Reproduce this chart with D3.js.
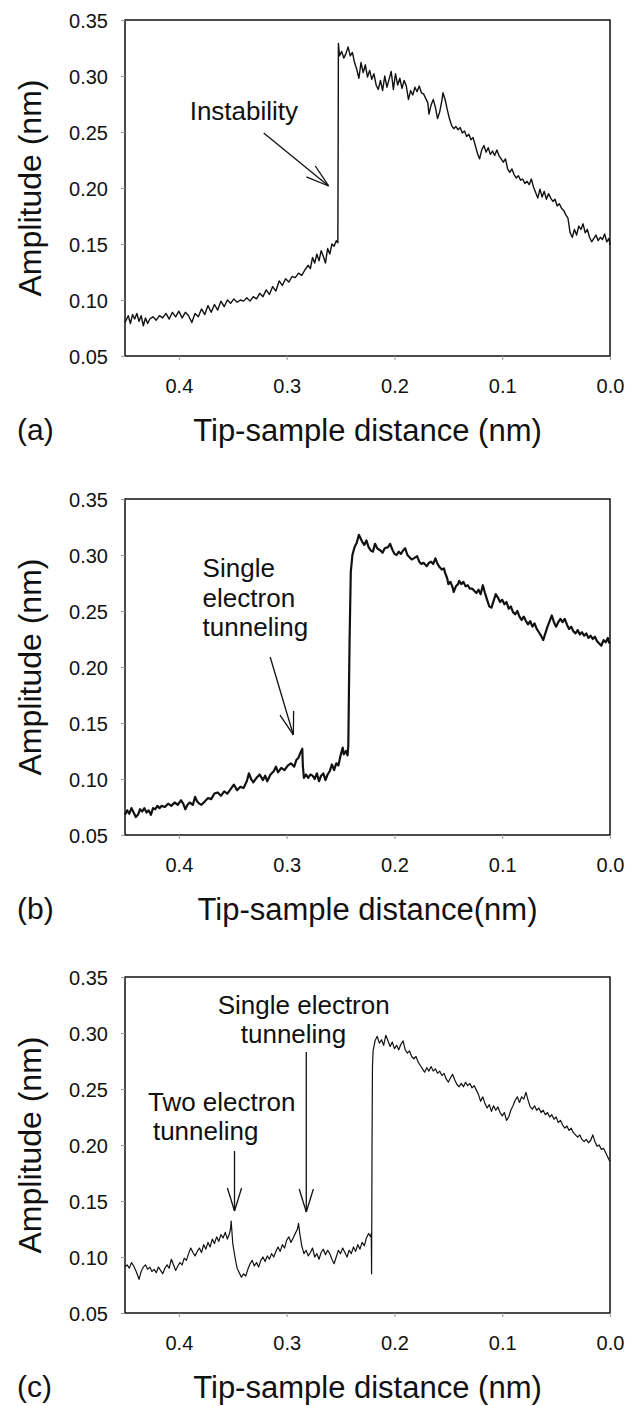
<!DOCTYPE html>
<html>
<head>
<meta charset="utf-8">
<script src="https://cdn.jsdelivr.net/npm/d3@7"></script>
<style>
  body { margin: 0; background: #fff; }
  text { font-family: "Liberation Sans", Arial, sans-serif; fill: #111; }
</style>
</head>
<body>
<script>
// ---- data: [tip-sample distance (nm), amplitude (nm)] ----
let curveA = [[0.450,0.080],[0.447,0.086],[0.445,0.079],[0.443,0.087],[0.441,0.083],[0.439,0.088],[0.437,0.081],[0.435,0.086],[0.433,0.077],[0.431,0.084],[0.429,0.079],[0.427,0.083],[0.424,0.085],[0.421,0.082],[0.418,0.086],[0.415,0.084],[0.412,0.088],[0.409,0.083],[0.406,0.089],[0.403,0.085],[0.400,0.090],[0.397,0.084],[0.394,0.089],[0.391,0.086],[0.388,0.080],[0.385,0.088],[0.382,0.085],[0.379,0.092],[0.376,0.087],[0.373,0.095],[0.370,0.089],[0.367,0.096],[0.364,0.091],[0.361,0.099],[0.358,0.094],[0.355,0.100],[0.352,0.097],[0.349,0.101],[0.346,0.098],[0.343,0.100],[0.340,0.099],[0.337,0.102],[0.334,0.099],[0.331,0.103],[0.328,0.101],[0.325,0.106],[0.322,0.103],[0.319,0.109],[0.316,0.105],[0.313,0.112],[0.310,0.108],[0.307,0.117],[0.304,0.113],[0.301,0.119],[0.298,0.116],[0.295,0.121],[0.292,0.120],[0.289,0.124],[0.286,0.122],[0.283,0.127],[0.280,0.131],[0.278,0.128],[0.276,0.138],[0.274,0.133],[0.272,0.141],[0.270,0.135],[0.268,0.144],[0.266,0.139],[0.264,0.133],[0.262,0.146],[0.260,0.141],[0.258,0.150],[0.256,0.148],[0.254,0.153],[0.2525,0.151],[0.2522,0.250],[0.2520,0.329],[0.251,0.318],[0.249,0.322],[0.247,0.316],[0.245,0.320],[0.243,0.326],[0.241,0.318],[0.239,0.321],[0.237,0.312],[0.235,0.306],[0.233,0.298],[0.231,0.312],[0.229,0.303],[0.227,0.310],[0.225,0.299],[0.223,0.305],[0.221,0.297],[0.219,0.302],[0.217,0.292],[0.215,0.288],[0.213,0.296],[0.211,0.287],[0.209,0.300],[0.207,0.290],[0.205,0.297],[0.203,0.304],[0.201,0.288],[0.199,0.302],[0.197,0.292],[0.195,0.298],[0.193,0.289],[0.191,0.296],[0.189,0.291],[0.187,0.279],[0.185,0.287],[0.183,0.283],[0.181,0.290],[0.179,0.286],[0.177,0.291],[0.175,0.285],[0.173,0.284],[0.171,0.280],[0.169,0.276],[0.168,0.266],[0.166,0.274],[0.164,0.279],[0.162,0.272],[0.160,0.262],[0.158,0.268],[0.156,0.278],[0.155,0.285],[0.153,0.279],[0.151,0.270],[0.149,0.262],[0.147,0.256],[0.145,0.253],[0.143,0.255],[0.141,0.252],[0.139,0.254],[0.137,0.249],[0.135,0.251],[0.133,0.246],[0.131,0.248],[0.129,0.243],[0.127,0.245],[0.125,0.238],[0.123,0.231],[0.121,0.226],[0.119,0.234],[0.117,0.238],[0.115,0.232],[0.113,0.236],[0.111,0.230],[0.109,0.233],[0.107,0.229],[0.105,0.234],[0.103,0.229],[0.101,0.226],[0.099,0.223],[0.097,0.226],[0.095,0.217],[0.093,0.214],[0.091,0.217],[0.089,0.212],[0.087,0.209],[0.085,0.211],[0.083,0.207],[0.081,0.208],[0.079,0.204],[0.077,0.206],[0.075,0.203],[0.073,0.208],[0.071,0.201],[0.069,0.196],[0.067,0.191],[0.065,0.199],[0.063,0.192],[0.061,0.197],[0.059,0.190],[0.057,0.195],[0.055,0.191],[0.053,0.188],[0.051,0.190],[0.049,0.184],[0.047,0.186],[0.045,0.182],[0.043,0.180],[0.041,0.176],[0.039,0.173],[0.037,0.160],[0.035,0.156],[0.033,0.163],[0.031,0.158],[0.029,0.166],[0.027,0.163],[0.025,0.168],[0.023,0.160],[0.021,0.163],[0.019,0.156],[0.017,0.152],[0.015,0.155],[0.013,0.158],[0.011,0.153],[0.009,0.156],[0.007,0.154],[0.005,0.159],[0.003,0.152],[0.001,0.155],[0.000,0.149]];

let curveB = [[0.450,0.068],[0.448,0.072],[0.446,0.069],[0.444,0.074],[0.442,0.070],[0.440,0.066],[0.438,0.068],[0.436,0.073],[0.434,0.071],[0.432,0.074],[0.430,0.070],[0.428,0.072],[0.426,0.068],[0.424,0.074],[0.422,0.073],[0.420,0.076],[0.418,0.074],[0.416,0.076],[0.413,0.075],[0.410,0.078],[0.407,0.076],[0.404,0.079],[0.401,0.077],[0.398,0.081],[0.396,0.078],[0.394,0.073],[0.392,0.077],[0.390,0.079],[0.387,0.077],[0.385,0.084],[0.383,0.080],[0.381,0.078],[0.379,0.077],[0.376,0.080],[0.373,0.083],[0.370,0.082],[0.367,0.087],[0.364,0.088],[0.361,0.085],[0.358,0.089],[0.355,0.087],[0.352,0.091],[0.349,0.095],[0.346,0.090],[0.343,0.093],[0.340,0.092],[0.337,0.098],[0.335,0.105],[0.333,0.100],[0.331,0.097],[0.328,0.101],[0.325,0.104],[0.322,0.099],[0.320,0.103],[0.318,0.098],[0.315,0.104],[0.312,0.107],[0.310,0.111],[0.308,0.106],[0.305,0.110],[0.302,0.108],[0.299,0.112],[0.296,0.114],[0.293,0.111],[0.291,0.117],[0.289,0.119],[0.287,0.124],[0.2855,0.127],[0.285,0.112],[0.284,0.101],[0.282,0.104],[0.280,0.101],[0.278,0.104],[0.276,0.103],[0.274,0.100],[0.272,0.105],[0.270,0.098],[0.268,0.103],[0.266,0.105],[0.264,0.099],[0.262,0.104],[0.260,0.107],[0.258,0.113],[0.256,0.108],[0.254,0.114],[0.252,0.112],[0.250,0.121],[0.248,0.128],[0.247,0.122],[0.245,0.125],[0.2435,0.121],[0.2428,0.130],[0.2422,0.180],[0.2416,0.225],[0.2405,0.285],[0.239,0.300],[0.237,0.307],[0.235,0.311],[0.233,0.318],[0.232,0.316],[0.230,0.312],[0.228,0.309],[0.226,0.313],[0.224,0.307],[0.222,0.304],[0.220,0.303],[0.218,0.310],[0.216,0.306],[0.213,0.304],[0.211,0.302],[0.209,0.306],[0.206,0.307],[0.204,0.310],[0.202,0.305],[0.200,0.301],[0.198,0.300],[0.196,0.303],[0.194,0.301],[0.192,0.304],[0.190,0.306],[0.188,0.300],[0.186,0.298],[0.184,0.296],[0.182,0.297],[0.179,0.299],[0.177,0.294],[0.175,0.292],[0.173,0.293],[0.170,0.290],[0.168,0.293],[0.166,0.294],[0.164,0.292],[0.162,0.297],[0.160,0.292],[0.158,0.289],[0.156,0.287],[0.154,0.288],[0.153,0.284],[0.151,0.279],[0.150,0.274],[0.148,0.276],[0.146,0.271],[0.145,0.267],[0.143,0.272],[0.141,0.274],[0.140,0.277],[0.138,0.274],[0.136,0.276],[0.134,0.272],[0.132,0.273],[0.130,0.270],[0.128,0.270],[0.126,0.268],[0.124,0.266],[0.122,0.269],[0.120,0.265],[0.118,0.273],[0.116,0.266],[0.114,0.260],[0.112,0.254],[0.110,0.253],[0.108,0.259],[0.106,0.265],[0.104,0.262],[0.102,0.258],[0.100,0.260],[0.098,0.256],[0.096,0.258],[0.094,0.252],[0.092,0.254],[0.090,0.249],[0.088,0.247],[0.086,0.250],[0.084,0.245],[0.082,0.242],[0.080,0.245],[0.078,0.241],[0.076,0.238],[0.074,0.241],[0.072,0.236],[0.070,0.239],[0.068,0.234],[0.066,0.231],[0.064,0.228],[0.062,0.224],[0.060,0.230],[0.058,0.236],[0.056,0.241],[0.054,0.246],[0.052,0.240],[0.050,0.236],[0.048,0.240],[0.046,0.243],[0.044,0.240],[0.042,0.243],[0.040,0.238],[0.038,0.234],[0.036,0.236],[0.034,0.232],[0.032,0.230],[0.030,0.233],[0.028,0.229],[0.026,0.231],[0.024,0.228],[0.022,0.230],[0.020,0.226],[0.018,0.228],[0.016,0.225],[0.014,0.227],[0.012,0.223],[0.010,0.221],[0.008,0.219],[0.006,0.224],[0.004,0.222],[0.002,0.226],[0.001,0.222],[0.000,0.221]];

let curveC = [[0.450,0.091],[0.448,0.093],[0.446,0.090],[0.444,0.095],[0.442,0.092],[0.440,0.088],[0.438,0.083],[0.437,0.080],[0.435,0.087],[0.433,0.091],[0.431,0.093],[0.429,0.089],[0.427,0.091],[0.425,0.087],[0.423,0.089],[0.421,0.086],[0.419,0.091],[0.417,0.088],[0.415,0.085],[0.413,0.090],[0.411,0.093],[0.409,0.090],[0.407,0.098],[0.405,0.093],[0.403,0.088],[0.401,0.092],[0.399,0.095],[0.397,0.093],[0.395,0.099],[0.393,0.097],[0.391,0.103],[0.389,0.108],[0.387,0.104],[0.385,0.101],[0.383,0.105],[0.381,0.108],[0.379,0.104],[0.377,0.111],[0.375,0.107],[0.373,0.113],[0.371,0.109],[0.369,0.116],[0.367,0.112],[0.365,0.118],[0.363,0.114],[0.361,0.120],[0.359,0.117],[0.357,0.122],[0.355,0.116],[0.353,0.121],[0.352,0.126],[0.3515,0.132],[0.350,0.112],[0.348,0.100],[0.346,0.090],[0.344,0.086],[0.342,0.082],[0.340,0.085],[0.338,0.083],[0.336,0.089],[0.334,0.094],[0.332,0.097],[0.330,0.092],[0.328,0.095],[0.326,0.091],[0.324,0.097],[0.322,0.100],[0.320,0.096],[0.318,0.101],[0.316,0.098],[0.314,0.103],[0.312,0.100],[0.310,0.105],[0.308,0.109],[0.306,0.105],[0.304,0.111],[0.302,0.108],[0.300,0.115],[0.298,0.118],[0.296,0.113],[0.294,0.117],[0.292,0.121],[0.290,0.125],[0.289,0.130],[0.288,0.122],[0.286,0.110],[0.284,0.103],[0.282,0.106],[0.280,0.101],[0.278,0.104],[0.276,0.108],[0.274,0.100],[0.272,0.103],[0.270,0.098],[0.268,0.104],[0.266,0.107],[0.264,0.102],[0.262,0.106],[0.260,0.103],[0.258,0.098],[0.256,0.094],[0.254,0.100],[0.252,0.106],[0.250,0.103],[0.248,0.108],[0.246,0.104],[0.244,0.100],[0.242,0.106],[0.240,0.103],[0.238,0.109],[0.236,0.105],[0.234,0.111],[0.232,0.107],[0.230,0.113],[0.228,0.110],[0.226,0.117],[0.224,0.121],[0.222,0.118],[0.2215,0.121],[0.2212,0.085],[0.2208,0.200],[0.2204,0.270],[0.2198,0.284],[0.218,0.293],[0.216,0.297],[0.214,0.291],[0.212,0.294],[0.210,0.289],[0.208,0.298],[0.206,0.293],[0.204,0.288],[0.202,0.292],[0.200,0.286],[0.198,0.289],[0.196,0.285],[0.194,0.290],[0.192,0.293],[0.190,0.285],[0.188,0.282],[0.186,0.284],[0.184,0.279],[0.182,0.277],[0.180,0.279],[0.178,0.274],[0.176,0.271],[0.174,0.268],[0.172,0.265],[0.170,0.269],[0.168,0.266],[0.166,0.270],[0.164,0.266],[0.162,0.268],[0.160,0.264],[0.158,0.266],[0.156,0.262],[0.154,0.264],[0.152,0.259],[0.150,0.256],[0.148,0.260],[0.146,0.263],[0.144,0.258],[0.142,0.254],[0.140,0.252],[0.138,0.255],[0.136,0.252],[0.134,0.256],[0.132,0.253],[0.130,0.255],[0.128,0.251],[0.126,0.253],[0.124,0.249],[0.122,0.245],[0.120,0.239],[0.118,0.243],[0.116,0.237],[0.114,0.233],[0.112,0.236],[0.110,0.230],[0.108,0.235],[0.106,0.231],[0.104,0.234],[0.102,0.229],[0.100,0.226],[0.098,0.229],[0.096,0.222],[0.094,0.225],[0.092,0.231],[0.090,0.235],[0.088,0.240],[0.086,0.243],[0.084,0.238],[0.082,0.243],[0.080,0.241],[0.078,0.247],[0.076,0.240],[0.074,0.234],[0.072,0.232],[0.070,0.235],[0.068,0.231],[0.066,0.233],[0.064,0.229],[0.062,0.231],[0.060,0.227],[0.058,0.229],[0.056,0.225],[0.054,0.227],[0.052,0.223],[0.050,0.225],[0.048,0.220],[0.046,0.222],[0.044,0.218],[0.042,0.215],[0.040,0.217],[0.038,0.213],[0.036,0.215],[0.034,0.211],[0.032,0.209],[0.030,0.207],[0.028,0.209],[0.026,0.205],[0.024,0.203],[0.022,0.205],[0.020,0.202],[0.018,0.204],[0.016,0.209],[0.014,0.203],[0.012,0.199],[0.010,0.200],[0.008,0.196],[0.006,0.197],[0.004,0.193],[0.002,0.189],[0.000,0.185]];

// ---- axes / labels ----
let xTicks = [0.4, 0.3, 0.2, 0.1, 0.0];
let yTicks = [0.05, 0.10, 0.15, 0.20, 0.25, 0.30, 0.35];
let panelTags = ["(a)", "(b)", "(c)"];
let xTitles = ["Tip-sample distance (nm)", "Tip-sample distance(nm)", "Tip-sample distance (nm)"];
let yTitle = "Amplitude (nm)";

// annotations: text lines [x, y, text] and arrows [x1, y1, x2, y2] in data units
let notesA = [[0.390, 0.2607, "Instability"]];
let arrowsA = [[0.3213, 0.2491, 0.2611, 0.2018]];
let notesB = [[0.378, 0.2804, "Single"], [0.378, 0.2536, "electron"], [0.378, 0.2277, "tunneling"]];
let arrowsB = [[0.3153, 0.2089, 0.2938, 0.1393]];
let notesC = [[0.364, 0.317, "Single electron"], [0.3426, 0.291, "tunneling"],
              [0.4287, 0.230, "Two electron"], [0.4241, 0.2045, "tunneling"]];
let arrowsC = [[0.3484, 0.1946, 0.3484, 0.1411], [0.2818, 0.283, 0.2818, 0.1402]];

let w = 635;
let h = 1406;

let svg = d3.select("body")
    .append("svg")
    .attr("width", w)
    .attr("height", h);

svg.append("rect").attr("width", w).attr("height", h).attr("fill", "#fff");

let left = 125, right = 610, plotH = 336;

let xScale = d3.scaleLinear()
    .domain([0.45, 0])          // distance runs right to left
    .range([left, right]);

let yScale = d3.scaleLinear()
    .domain([0.05, 0.35])
    .range([plotH, 0]);

let line = d3.line()
    .x(d => xScale(d[0]))
    .y(d => yScale(d[1]));

function arrowHead(g, x1, y1, x2, y2) {
    let ang = Math.atan2(y1 - y2, x1 - x2);   // pointing back along the shaft
    let len = 24, spread = 0.3;
    [ang - spread, ang + spread].forEach(a => {
        g.append("line")
            .attr("x1", x2).attr("y1", y2)
            .attr("x2", x2 + len * Math.cos(a))
            .attr("y2", y2 + len * Math.sin(a))
            .attr("stroke", "#111").attr("stroke-width", 1.3);
    });
}

function drawPanel(top, data, lineW, tag, xTitle, notes, arrows) {
    let g = svg.append("g").attr("transform", "translate(0," + top + ")");

    // frame
    g.append("rect")
        .attr("x", left).attr("y", 0)
        .attr("width", right - left).attr("height", plotH)
        .attr("fill", "none").attr("stroke", "#111").attr("stroke-width", 1.5);

    let xAxis = g.append("g")
        .attr("transform", "translate(0," + plotH + ")")
        .call(d3.axisBottom(xScale).tickValues(xTicks).tickSize(4).tickFormat(d3.format(".1f")));
    xAxis.select(".domain").remove();
    xAxis.selectAll("line").attr("stroke", "#999");
    xAxis.selectAll("text")
        .attr("y", 37).attr("dy", 0)
        .style("font-family", "'Liberation Sans', Arial, sans-serif")
        .style("font-size", "20px").attr("fill", "#111");

    let yAxis = g.append("g")
        .attr("transform", "translate(" + left + ",0)")
        .call(d3.axisLeft(yScale).tickValues(yTicks).tickSize(4).tickPadding(13).tickFormat(d3.format(".2f")));
    yAxis.select(".domain").remove();
    yAxis.selectAll("line").attr("stroke", "#999");
    yAxis.selectAll("text")
        .attr("dy", "0.36em")
        .style("font-family", "'Liberation Sans', Arial, sans-serif")
        .style("font-size", "20px").attr("fill", "#111");

    // curve
    g.append("path")
        .datum(data)
        .attr("d", line)
        .attr("fill", "none")
        .attr("stroke", "#111")
        .attr("stroke-width", lineW)
        .attr("stroke-linejoin", "round");

    // titles
    g.append("text")
        .attr("transform", "translate(41," + (plotH / 2) + ") rotate(-90)")
        .attr("text-anchor", "middle")
        .style("font-size", "32px")
        .text(yTitle);

    g.append("text")
        .attr("x", (left + right) / 2).attr("y", plotH + 85)
        .attr("text-anchor", "middle")
        .style("font-size", "31px")
        .text(xTitle);

    g.append("text")
        .attr("x", 17).attr("y", plotH + 84)
        .style("font-size", "30px")
        .text(tag);

    // annotations
    notes.forEach(n => {
        g.append("text")
            .attr("x", xScale(n[0])).attr("y", yScale(n[1]))
            .style("font-size", "26px")
            .text(n[2]);
    });
    arrows.forEach(a => {
        let x1 = xScale(a[0]), y1 = yScale(a[1]), x2 = xScale(a[2]), y2 = yScale(a[3]);
        g.append("line")
            .attr("x1", x1).attr("y1", y1).attr("x2", x2).attr("y2", y2)
            .attr("stroke", "#111").attr("stroke-width", 1.3);
        arrowHead(g, x1, y1, x2, y2);
    });
}

drawPanel(20, curveA, 1.4, panelTags[0], xTitles[0], notesA, arrowsA);
drawPanel(499, curveB, 2.2, panelTags[1], xTitles[1], notesB, arrowsB);
drawPanel(977, curveC, 1.2, panelTags[2], xTitles[2], notesC, arrowsC);
</script>
</body>
</html>
